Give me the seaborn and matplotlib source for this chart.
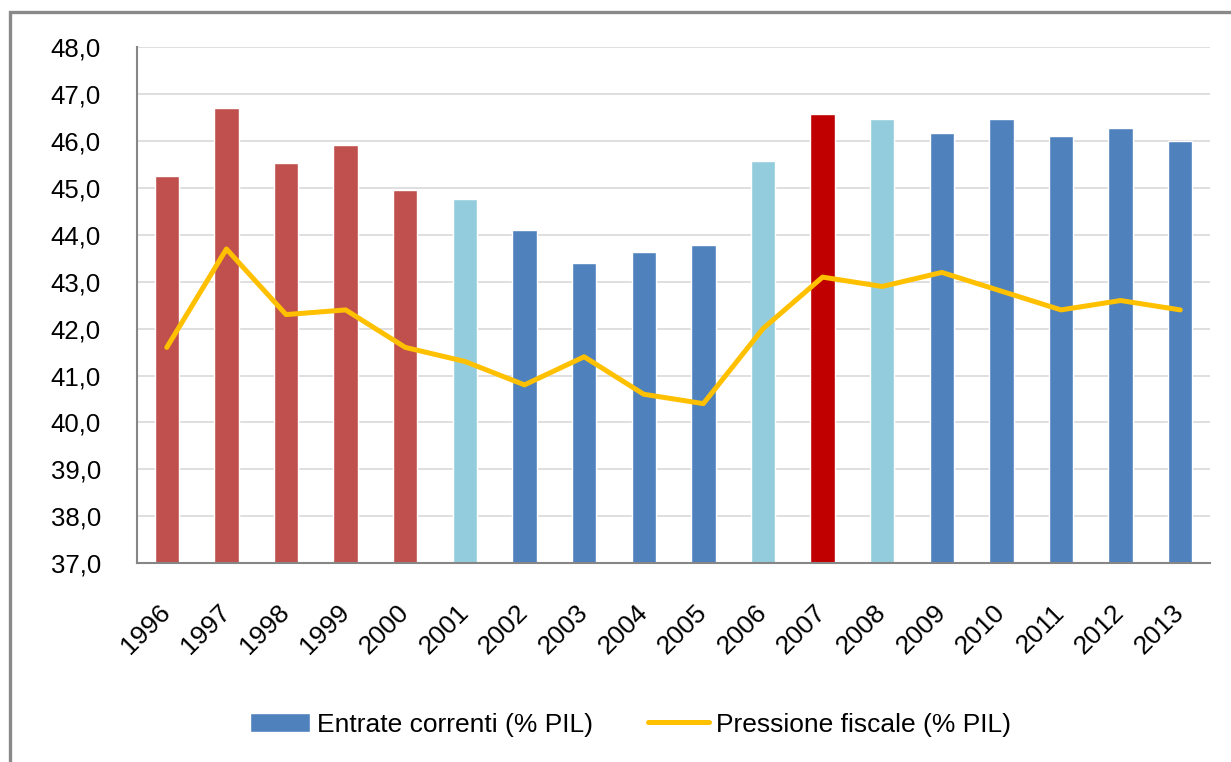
import numpy as np
import pandas as pd
import seaborn as sns
import matplotlib.pyplot as plt
from matplotlib.patches import Rectangle, Patch
from matplotlib.lines import Line2D

# dati
years = ["1996", "1997", "1998", "1999", "2000", "2001", "2002", "2003", "2004",
         "2005", "2006", "2007", "2008", "2009", "2010", "2011", "2012", "2013"]
entrate = [45.25, 46.7, 45.53, 45.92, 44.95, 44.76, 44.1, 43.4, 43.63,
           43.78, 45.57, 46.58, 46.47, 46.17, 46.47, 46.11, 46.28, 46.0]
pressione = [41.6, 43.7, 42.3, 42.4, 41.6, 41.3, 40.8, 41.4, 40.6,
             40.4, 42.0, 43.1, 42.9, 43.2, 42.8, 42.4, 42.6, 42.4]
bar_colors = ["#C0504D"] * 5 + ["#93CDDD", "#4F81BD", "#4F81BD", "#4F81BD", "#4F81BD",
              "#93CDDD", "#C00000", "#93CDDD"] + ["#4F81BD"] * 5
y_ticks = [37, 38, 39, 40, 41, 42, 43, 44, 45, 46, 47, 48]

df = pd.DataFrame({"anno": years, "entrate": entrate, "pressione": pressione})

sns.set_style("white")
plt.rcParams["font.family"] = ["Liberation Sans", "DejaVu Sans"]
plt.rcParams["text.color"] = "black"
plt.rcParams["xtick.labelcolor"] = "black"
plt.rcParams["ytick.labelcolor"] = "black"

fig = plt.figure(figsize=(12.31, 7.62), dpi=100)
ax = fig.add_axes([0.1113, 0.2612, 0.8717, 0.6765])

sns.barplot(data=df, x="anno", y="entrate", hue="anno", palette=bar_colors,
            legend=False, width=0.41, saturation=1, ax=ax)
sns.lineplot(x=np.arange(len(years)), y=df["pressione"], color="#FFC000",
             linewidth=3.6, ax=ax)

ax.set_ylim(37, 48)
ax.set_xlim(-0.5, len(years) - 0.5)
ax.set_yticks(y_ticks)
ax.set_yticklabels([f"{v:.1f}".replace(".", ",") for v in y_ticks], fontsize=18.5)
ax.set_xticks(range(len(years)))
ax.set_xticklabels(years, fontsize=19, rotation=45, ha="right", va="center",
                   rotation_mode="anchor")
ax.set_xticks(np.arange(-0.5, len(years)), minor=True)
ax.tick_params(axis="x", which="major", length=0, pad=33)
ax.tick_params(axis="x", which="minor", length=10, width=1.2, color="#868686")
ax.tick_params(axis="y", length=10, width=1.2, color="#868686", pad=16)
ax.set_xlabel("")
ax.set_ylabel("")

ax.yaxis.grid(True, color="#D9D9D9", linewidth=1.2)
ax.set_axisbelow(True)
for s in ["top", "right"]:
    ax.spines[s].set_visible(False)
for s in ["left", "bottom"]:
    ax.spines[s].set_color("#868686")
    ax.spines[s].set_linewidth(1.5)

# cornice esterna
fig.patches.append(Rectangle((10 / 1231, -0.1), 1.2, 1.1 - 12 / 762,
                             transform=fig.transFigure, fill=False,
                             edgecolor="#898989", linewidth=2.4))

handles = [Patch(facecolor="#4F81BD", label="Entrate correnti (% PIL)"),
           Line2D([0], [0], color="#FFC000", linewidth=3.6, label="Pressione fiscale (% PIL)")]
fig.legend(handles=handles, loc="center", bbox_to_anchor=(0.512, 0.049), ncol=2,
           frameon=False, fontsize=19, handlelength=2.3, handleheight=0.75,
           handletextpad=0.25, columnspacing=2.1)

plt.savefig("out.png", dpi=100)
